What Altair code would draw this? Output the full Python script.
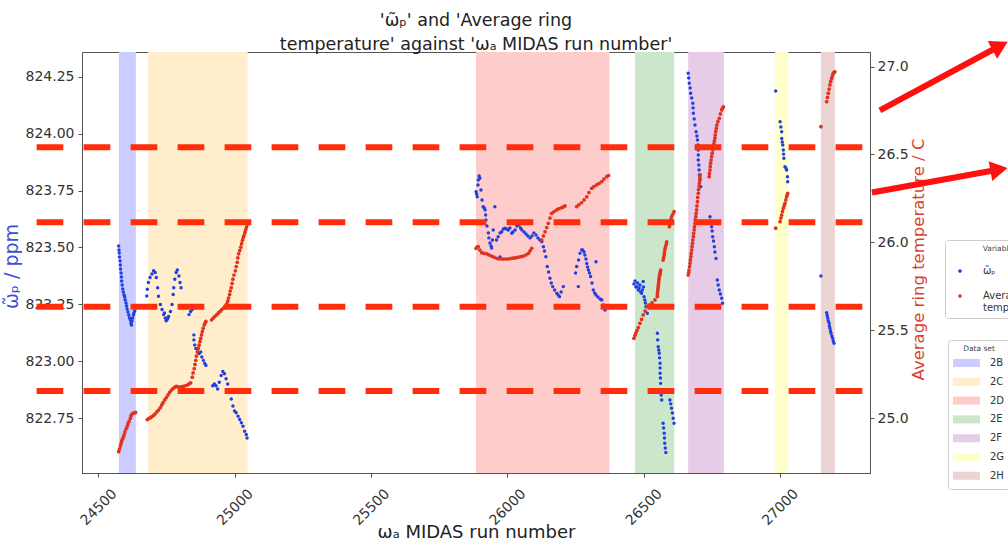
import altair as alt
import pandas as pd

# ---------------- data ----------------
dataset_names = ["2B", "2C", "2D", "2E", "2F", "2G", "2H"]
dataset_start = [24575, 24682, 25885, 26468, 26663, 26981, 27150]
dataset_end = [24637, 25047, 26374, 26612, 26794, 27030, 27201]

x_ticks = [24500, 25000, 25500, 26000, 26500, 27000]
wp_ticks = [822.75, 823.0, 823.25, 823.5, 823.75, 824.0, 824.25]
temp_ticks = [25.0, 25.5, 26.0, 26.5, 27.0]

# omega_p tilde (ppm) vs run number
wp_2B = [(24574, 823.506), (24575, 823.489), (24576, 823.476), (24577, 823.458), (24579, 823.441),
         (24580, 823.423), (24581, 823.405), (24583, 823.388), (24584, 823.370), (24585, 823.353),
         (24587, 823.335), (24589, 823.318), (24591, 823.304), (24594, 823.291), (24596, 823.282),
         (24598, 823.269), (24601, 823.256), (24603, 823.243), (24605, 823.230), (24608, 823.217),
         (24611, 823.203), (24614, 823.190), (24617, 823.181), (24619, 823.168), (24621, 823.159),
         (24623, 823.177), (24625, 823.190), (24628, 823.203), (24630, 823.212), (24633, 823.221)]
wp_2C = [(24677, 823.287), (24679, 823.316), (24683, 823.346), (24689, 823.368), (24696, 823.383),
         (24702, 823.398), (24708, 823.390), (24712, 823.368), (24717, 823.323), (24720, 823.286),
         (24727, 823.249), (24733, 823.227), (24739, 823.205), (24742, 823.212), (24745, 823.190),
         (24748, 823.178), (24751, 823.182), (24754, 823.188), (24757, 823.197), (24764, 823.219),
         (24770, 823.249), (24774, 823.293), (24776, 823.323), (24780, 823.360), (24785, 823.390),
         (24789, 823.401), (24795, 823.375), (24799, 823.346), (24803, 823.323), (24832, 823.205),
         (24838, 823.219), (24844, 823.227), (24850, 823.116), (24850, 823.094), (24853, 823.072),
         (24857, 823.056), (24863, 823.041), (24869, 823.034), (24875, 823.041), (24879, 823.019),
         (24885, 823.004), (24890, 822.990), (24894, 822.982), (24919, 822.893), (24925, 822.900),
         (24931, 822.893), (24937, 822.878), (24943, 822.908), (24950, 822.938), (24956, 822.955),
         (24962, 822.945), (24968, 822.923), (24974, 822.900), (24981, 822.863), (24987, 822.834),
         (24993, 822.804), (24999, 822.782), (25005, 822.774), (25012, 822.759), (25018, 822.744),
         (25024, 822.730), (25030, 822.715), (25036, 822.693), (25042, 822.678), (25045, 822.663)]
wp_2D = [(25885, 823.745), (25887, 823.735), (25889, 823.723), (25892, 823.774), (25893, 823.796),
         (25896, 823.814), (25899, 823.804), (25903, 823.752), (25907, 823.708), (25911, 823.679),
         (25915, 823.673), (25918, 823.665), (25920, 823.643), (25921, 823.621), (25925, 823.594),
         (25930, 823.564), (25932, 823.542), (25936, 823.520), (25940, 823.506), (25942, 823.498),
         (25945, 823.533), (25948, 823.577), (25954, 823.679), (25960, 823.533), (25966, 823.547),
         (25973, 823.564), (25973, 823.458), (25979, 823.569), (25985, 823.581), (25991, 823.584),
         (25997, 823.581), (26003, 823.577), (26009, 823.585), (26016, 823.562), (26020, 823.568),
         (26028, 823.577), (26035, 823.594), (26042, 823.599), (26048, 823.585), (26053, 823.577),
         (26061, 823.568), (26068, 823.559), (26075, 823.550), (26083, 823.542), (26090, 823.550),
         (26097, 823.564), (26105, 823.555), (26112, 823.542), (26119, 823.533), (26126, 823.525),
         (26132, 823.503), (26136, 823.484), (26141, 823.459), (26146, 823.416), (26151, 823.392),
         (26156, 823.365), (26161, 823.344), (26166, 823.328), (26173, 823.313), (26181, 823.299),
         (26186, 823.291), (26191, 823.284), (26197, 823.304), (26205, 823.328), (26250, 823.388),
         (26254, 823.416), (26260, 823.328), (26261, 823.445), (26266, 823.474), (26272, 823.489),
         (26276, 823.489), (26281, 823.480), (26284, 823.467), (26288, 823.449), (26291, 823.430),
         (26294, 823.414), (26297, 823.401), (26301, 823.388), (26305, 823.372), (26310, 823.344),
         (26315, 823.313), (26320, 823.300), (26325, 823.291), (26325, 823.437), (26332, 823.282),
         (26340, 823.274), (26346, 823.269), (26352, 823.247), (26358, 823.225)]
wp_2E = [(26464, 823.340), (26468, 823.353), (26471, 823.326), (26474, 823.328), (26477, 823.344),
         (26480, 823.313), (26483, 823.322), (26486, 823.335), (26489, 823.304), (26492, 823.299),
         (26495, 823.313), (26498, 823.350), (26499, 823.326), (26501, 823.284), (26504, 823.269),
         (26506, 823.256), (26508, 823.240), (26513, 823.211), (26550, 823.123), (26551, 823.094),
         (26553, 823.064), (26555, 823.050), (26557, 823.035), (26558, 823.015), (26560, 822.991),
         (26560, 822.971), (26560, 822.947), (26561, 822.927), (26562, 822.903), (26563, 822.874),
         (26564, 822.852), (26566, 822.830), (26596, 822.830), (26599, 822.813), (26602, 822.794),
         (26605, 822.773), (26608, 822.750), (26611, 822.728), (26571, 822.728), (26573, 822.707),
         (26575, 822.684), (26576, 822.663), (26577, 822.640), (26579, 822.619), (26581, 822.599)]
wp_2F = [(26663, 824.265), (26665, 824.244), (26667, 824.221), (26670, 824.200), (26672, 824.177),
         (26676, 824.156), (26680, 824.133), (26681, 824.113), (26682, 824.089), (26685, 824.064),
         (26688, 824.038), (26692, 824.008), (26695, 823.990), (26697, 823.972), (26699, 823.950),
         (26700, 823.928), (26700, 823.906), (26700, 823.884), (26702, 823.862), (26703, 823.840),
         (26704, 823.818), (26706, 823.796), (26709, 823.767), (26743, 823.635), (26746, 823.616),
         (26749, 823.591), (26751, 823.572), (26753, 823.547), (26756, 823.528), (26759, 823.503),
         (26761, 823.480), (26765, 823.452), (26770, 823.357), (26773, 823.335), (26777, 823.313),
         (26781, 823.296), (26786, 823.277), (26789, 823.255)]
wp_2G = [(26984, 824.187), (27000, 824.052), (27003, 824.029), (27006, 824.008), (27006, 823.979),
         (27008, 823.963), (27010, 823.950), (27012, 823.928), (27013, 823.910), (27014, 823.892),
         (27018, 823.855), (27022, 823.847), (27024, 823.840), (27027, 823.811), (27028, 823.789)]
wp_2H = [(27150, 823.375), (27171, 823.213), (27173, 823.201), (27175, 823.189), (27177, 823.177),
         (27180, 823.167), (27181, 823.155), (27183, 823.145), (27185, 823.133), (27187, 823.123),
         (27190, 823.111), (27193, 823.101), (27195, 823.089), (27198, 823.079)]

# average ring temperature (C) vs run number
temp_2B = [(24574, 24.809), (24577, 24.824), (24580, 24.841), (24583, 24.856), (24585, 24.870),
           (24588, 24.881), (24591, 24.890), (24594, 24.904), (24597, 24.921), (24601, 24.938),
           (24605, 24.951), (24608, 24.967), (24612, 24.981), (24617, 24.999), (24619, 25.012),
           (24623, 25.023), (24628, 25.028), (24632, 25.030), (24636, 25.032)]
temp_2C = [(24679, 24.992), (24685, 24.998), (24691, 25.003), (24696, 25.009), (24702, 25.015),
           (24707, 25.023), (24714, 25.035), (24720, 25.046), (24727, 25.060), (24732, 25.075),
           (24737, 25.088), (24743, 25.103), (24749, 25.117), (24755, 25.132), (24761, 25.146),
           (24767, 25.159), (24774, 25.169), (24780, 25.176), (24786, 25.180), (24792, 25.178),
           (24799, 25.175), (24804, 25.177), (24811, 25.180), (24818, 25.184), (24826, 25.188),
           (24832, 25.194), (24838, 25.200),
           (24844, 25.233), (24847, 25.257), (24851, 25.281), (24854, 25.305), (24857, 25.329),
           (24859, 25.353), (24863, 25.377), (24866, 25.396), (24869, 25.415), (24872, 25.435),
           (24875, 25.453), (24878, 25.473), (24881, 25.492), (24884, 25.511), (24888, 25.530),
           (24891, 25.541), (24894, 25.550),
           (24915, 25.559), (24921, 25.569), (24927, 25.579), (24934, 25.588), (24940, 25.598),
           (24946, 25.607), (24952, 25.617), (24959, 25.626), (24964, 25.636), (24970, 25.649),
           (24974, 25.665),
           (24977, 25.683), (24981, 25.703), (24983, 25.723), (24987, 25.742), (24990, 25.766),
           (24993, 25.790), (24997, 25.814), (25002, 25.838), (25005, 25.862), (25009, 25.886),
           (25011, 25.911), (25014, 25.934), (25018, 25.953), (25022, 25.972), (25025, 25.992),
           (25028, 26.011), (25031, 26.026), (25034, 26.040), (25037, 26.056), (25040, 26.072),
           (25043, 26.087), (25046, 26.103)]
temp_2D = [(25885, 25.966), (25889, 25.973), (25893, 25.975), (25899, 25.956), (25906, 25.941),
           (25914, 25.937), (25924, 25.934), (25932, 25.928), (25942, 25.922), (25951, 25.915),
           (25961, 25.909), (25969, 25.906), (25979, 25.905), (25987, 25.905), (25997, 25.905),
           (26006, 25.906), (26016, 25.909), (26024, 25.911), (26031, 25.912), (26040, 25.915),
           (26050, 25.918), (26058, 25.922), (26068, 25.928), (26077, 25.937), (26083, 25.951),
           (26089, 25.966),
           (26126, 26.013), (26132, 26.036), (26138, 26.060), (26144, 26.084), (26150, 26.108),
           (26156, 26.138), (26162, 26.165), (26171, 26.175), (26181, 26.184), (26189, 26.191),
           (26199, 26.197), (26206, 26.202), (26211, 26.207),
           (26254, 26.203), (26262, 26.213), (26272, 26.225), (26281, 26.241), (26291, 26.259),
           (26299, 26.283), (26309, 26.307), (26317, 26.317), (26327, 26.326), (26336, 26.335),
           (26346, 26.345), (26354, 26.360), (26364, 26.373), (26371, 26.380)]
temp_2E = [(26464, 25.454), (26468, 25.470), (26471, 25.484), (26475, 25.498), (26480, 25.515),
           (26486, 25.539), (26492, 25.561), (26498, 25.587), (26505, 25.609), (26511, 25.634),
           (26519, 25.643), (26530, 25.655), (26541, 25.672), (26550, 25.691), (26550, 25.705),
           (26551, 25.719), (26552, 25.733), (26553, 25.748), (26554, 25.762), (26555, 25.776),
           (26556, 25.790), (26557, 25.804), (26559, 25.814), (26560, 25.824), (26561, 25.833),
           (26562, 25.842), (26571, 25.899), (26573, 25.913), (26575, 25.928), (26576, 25.942),
           (26577, 25.956), (26579, 25.968), (26581, 25.980), (26583, 25.992), (26584, 26.003),
           (26594, 26.089), (26596, 26.103), (26598, 26.117), (26600, 26.131), (26602, 26.146),
           (26607, 26.161), (26611, 26.174)]
temp_2F = [(26663, 25.814), (26665, 25.828), (26666, 25.842), (26668, 25.862), (26670, 25.881),
           (26671, 25.900), (26673, 25.918), (26674, 25.937), (26676, 25.956), (26677, 25.975),
           (26679, 25.994), (26680, 26.013), (26682, 26.032), (26683, 26.051), (26685, 26.070),
           (26686, 26.089), (26688, 26.108), (26689, 26.127), (26691, 26.146), (26692, 26.165),
           (26694, 26.184), (26695, 26.207), (26697, 26.231), (26698, 26.255), (26700, 26.279),
           (26701, 26.300), (26703, 26.320), (26704, 26.337), (26706, 26.354), (26706, 26.368),
           (26707, 26.383),
           (26740, 26.373), (26741, 26.392), (26743, 26.411), (26744, 26.430), (26745, 26.449),
           (26747, 26.468), (26749, 26.487), (26751, 26.506), (26753, 26.525), (26755, 26.542),
           (26757, 26.559), (26759, 26.575), (26761, 26.592), (26762, 26.610), (26764, 26.629),
           (26766, 26.648), (26768, 26.667), (26772, 26.686), (26777, 26.705), (26781, 26.730),
           (26786, 26.753), (26789, 26.762), (26792, 26.771)]
temp_2G = [(26984, 26.080), (27000, 26.117), (27003, 26.138), (27006, 26.155), (27009, 26.175),
           (27012, 26.193), (27015, 26.208), (27018, 26.222), (27021, 26.241), (27024, 26.259),
           (27026, 26.269), (27028, 26.279)]
temp_2H = [(27150, 26.658), (27171, 26.800), (27174, 26.824), (27177, 26.848), (27180, 26.872),
           (27183, 26.895), (27186, 26.915), (27189, 26.933), (27192, 26.947), (27195, 26.961),
           (27198, 26.967), (27201, 26.970)]

# red dashed annotation lines (temperature units) and their run-number extent
guide_levels = [26.540, 26.114, 25.634, 25.154]
guide_run_from = 24273
guide_run_to = 27322

# red annotation arrows: tail (run, temp), head (run, temp), heading (deg clockwise from up)
arrow_tail_run = [27366, 27337]
arrow_tail_temp = [26.750, 26.283]
arrow_head_run = [27807, 27803]
arrow_head_temp = [27.118, 26.414]
arrow_heading = [61.7, 79.7]

X_DOMAIN = [24439.5, 27329.9]
WP_DOMAIN = [822.5093, 824.3585]
T_DOMAIN = [24.6877, 27.0825]

# ---------------- styles ----------------
SPAN_COLORS = ["#ccccff", "#ffedcc", "#ffcccc", "#cce6cc", "#e6cce6", "#ffffcc", "#edd4d4"]
BLUE = "#1f3fe0"
RED = "#e0321e"
FONT = "DejaVu Sans"
WP_NAME = "\u03c9\u0303\u209a"
T_NAME = "Average ring temperature"

wp_df = pd.DataFrame(wp_2B + wp_2C + wp_2D + wp_2E + wp_2F + wp_2G + wp_2H, columns=["run", "value"])
wp_df["series"] = WP_NAME
t_df = pd.DataFrame(temp_2B + temp_2C + temp_2D + temp_2E + temp_2F + temp_2G + temp_2H,
                    columns=["run", "value"])
t_df["series"] = T_NAME
spans_df = pd.DataFrame({"dataset": dataset_names, "start": dataset_start, "end": dataset_end})
guides_df = pd.DataFrame({"level": guide_levels, "x0": guide_run_from, "x1": guide_run_to})
arrows_df = pd.DataFrame({"x0": arrow_tail_run, "y0": arrow_tail_temp,
                          "x1": arrow_head_run, "y1": arrow_head_temp, "ang": arrow_heading})

x_scale = alt.Scale(domain=X_DOMAIN, nice=False, zero=False)
wp_scale = alt.Scale(domain=WP_DOMAIN, nice=False, zero=False)
t_scale = alt.Scale(domain=T_DOMAIN, nice=False, zero=False)
color_scale = alt.Scale(domain=[WP_NAME, T_NAME], range=[BLUE, RED])

X_TITLE = "\u03c9\u2090 MIDAS run number"
x_axis = alt.Axis(values=x_ticks, format="d", labelAngle=315, labelAlign="center",
                  labelBaseline="middle", labelPadding=30, tickSize=4,
                  title=X_TITLE, titleFontSize=18, titleFontWeight="normal",
                  titleColor="#222", titleY=59, titleBaseline="middle")
WP_TITLE = WP_NAME + " / ppm"
left_axis = alt.Axis(values=wp_ticks, format=".2f", tickSize=4, labelPadding=4,
                     title=WP_TITLE, titleColor="#3c4fd4", titleFontSize=19,
                     titleFontWeight="normal", titleAngle=270, titleX=-71, titleY=214,
                     titleAlign="center", titleBaseline="middle")
T_TITLE = "Average ring temperature / C"
right_axis = alt.Axis(values=temp_ticks, format=".1f", orient="right", tickSize=4, labelPadding=3,
                      title=T_TITLE, titleColor="#d9442f", titleFontSize=16.5,
                      titleFontWeight="normal", titleAngle=270, titleX=48.5, titleY=207,
                      titleAlign="center", titleBaseline="middle")

legend_vars = alt.Legend(
    title="Variable", orient="none", legendX=863, legendY=188, direction="vertical",
    symbolType="M0.18,0A0.18,0.18,0,1,1,-0.18,0A0.18,0.18,0,1,1,0.18,0Z",
    symbolSize=400, symbolStrokeWidth=0, labelFontSize=10, labelColor="#333", labelOffset=13,
    labelFont=FONT, labelLimit=300,
    labelExpr="datum.label == 'Average ring temperature' ? ['Average ring', 'temperature'] : datum.label",
    titleFont=FONT, titleFontSize=7.5, titleFontWeight="normal", titleColor="#444",
    titleAnchor="middle", titlePadding=6, padding=5, strokeColor="#cccccc", fillColor="white",
    cornerRadius=3, clipHeight=25, rowPadding=0)
legend_sets = alt.Legend(
    title="Data set", orient="none", legendX=866, legendY=288, direction="vertical",
    symbolType="M-1,-0.3H1V0.3H-1Z", symbolSize=729, symbolStrokeWidth=0, symbolOpacity=1,
    labelFontSize=10, labelColor="#333", labelOffset=10, labelFont=FONT,
    titleFont=FONT, titleFontSize=7.5, titleFontWeight="normal", titleColor="#444",
    titleAnchor="middle", titlePadding=3, padding=5, strokeColor="#cccccc", fillColor="white",
    cornerRadius=3, clipHeight=15, rowPadding=3.8)


def X(field):
    return alt.X(field, scale=x_scale, axis=x_axis, title=X_TITLE)


def YT(field):
    return alt.Y(field, scale=t_scale, axis=right_axis, title=T_TITLE)


spans = alt.Chart(spans_df).mark_rect(opacity=1).encode(
    x=X("start:Q"),
    x2="end:Q",
    fill=alt.Fill("dataset:N", scale=alt.Scale(domain=dataset_names, range=SPAN_COLORS),
                  legend=legend_sets),
)
blue_pts = alt.Chart(wp_df).mark_circle(size=12, opacity=1).encode(
    x=X("run:Q"),
    y=alt.Y("value:Q", scale=wp_scale, axis=left_axis, title=WP_TITLE),
    color=alt.Color("series:N", scale=color_scale, legend=legend_vars),
)
red_pts = alt.Chart(t_df).mark_circle(size=14, opacity=1).encode(
    x=X("run:Q"),
    y=YT("value:Q"),
    color=alt.Color("series:N", scale=color_scale, legend=legend_vars),
)
guides = alt.Chart(guides_df).mark_rule(color="#ff2d0a", strokeWidth=6,
                                        strokeDash=[26.7, 20.3]).encode(
    x=X("x0:Q"), x2="x1:Q",
    y=YT("level:Q"),
)
arrow_lines = alt.Chart(arrows_df).mark_rule(color="#ff1010", strokeWidth=6).encode(
    x=X("x0:Q"), x2="x1:Q",
    y=YT("y0:Q"), y2="y1:Q",
)
arrow_heads = alt.Chart(arrows_df).mark_point(shape="triangle-up", filled=True, size=400,
                                              opacity=1, color="#ff1010").encode(
    x=X("x1:Q"),
    y=YT("y1:Q"),
    angle=alt.Angle("ang:Q", scale=None),
)

left = alt.layer(spans, blue_pts)
right = alt.layer(red_pts, guides, arrow_lines, arrow_heads)

chart = alt.layer(left, right).resolve_scale(y="independent").properties(
    width=788, height=421,
    padding={"left": 82, "top": 52, "right": 138, "bottom": 68},
    autosize=alt.AutoSizeParams(type="none"),
    background="white",
    title=alt.Title(["'" + WP_NAME + "' and 'Average ring",
                     "temperature' against '\u03c9\u2090 MIDAS run number'"],
                    font=FONT, fontSize=17.5, fontWeight="normal", color="#222",
                    lineHeight=24, offset=6, dy=18, frame="group", anchor="middle"),
).configure(font=FONT).configure_view(stroke="#555", strokeWidth=1).configure_axis(
    grid=False, labelFont=FONT, labelFontSize=14, labelColor="#333", titleFont=FONT,
    domainColor="#555", tickColor="#555",
)

chart.save("out.html", embed_options={"renderer": "svg", "actions": False})
